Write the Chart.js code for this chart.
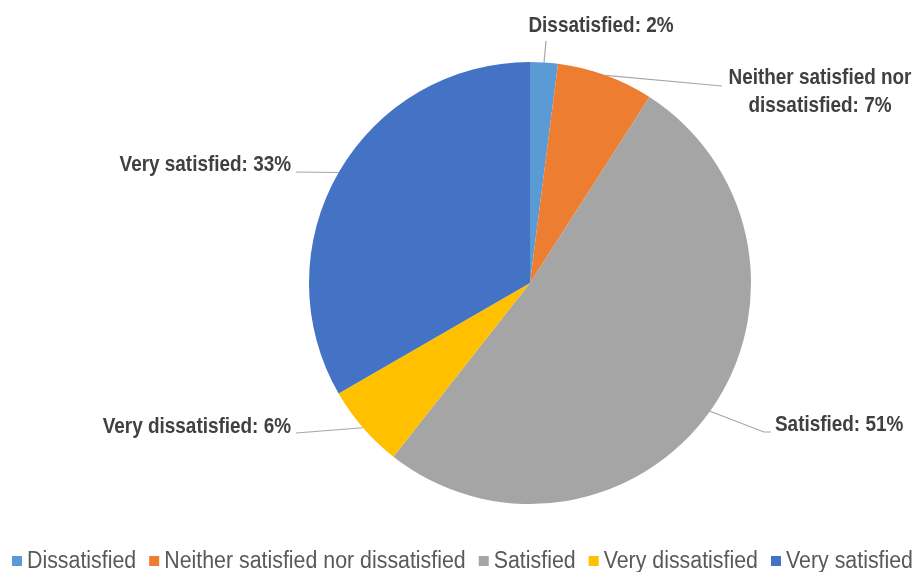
<!DOCTYPE html>
<html>
<head>
<meta charset="utf-8">
<title>Satisfaction</title>
<script src="https://cdn.jsdelivr.net/npm/chart.js@4/dist/chart.umd.min.js"></script>
<style>
    html, body { margin: 0; padding: 0; background: #fff; }
    #wrap { width: 921px; height: 572px; position: relative; }
</style>
</head>
<body>
<div id="wrap"><canvas id="satisfaction-pie"></canvas></div>
<script>
// Data
var categories = ['Dissatisfied', 'Neither satisfied nor dissatisfied', 'Satisfied', 'Very dissatisfied', 'Very satisfied'];
var shares = [2, 7, 51, 6, 33];
var colors = ['#5B9BD5', '#ED7D31', '#A5A5A5', '#FFC000', '#4472C4'];

// Label boxes (text lines, position, alignment) and where the leader stops
var labelLines = [
    ['Dissatisfied: '],
    ['Neither satisfied nor', 'dissatisfied: '],
    ['Satisfied: '],
    ['Very dissatisfied: '],
    ['Very satisfied: ']
];
var labelLayout = [
    { x: 601, y: 26, align: 'center', lineEnd: [546, 41] },
    { x: 820, y: 78, align: 'center', lineEnd: [722, 86] },
    { x: 775, y: 425, align: 'left', lineEnd: [764, 432], elbow: [771, 432] },
    { x: 291, y: 427, align: 'right', lineEnd: [296, 433] },
    { x: 291, y: 165, align: 'right', lineEnd: [296, 172] }
];

/**
 * Draw text squeezed horizontally
 */
function drawNarrowText(ctx, text, x, y, align, sx) {
    var w = ctx.measureText(text).width * sx;
    var left = align === 'center' ? x - w / 2 : (align === 'right' ? x - w : x);
    ctx.save();
    ctx.translate(left, y);
    ctx.scale(sx, 1);
    ctx.textAlign = 'left';
    ctx.fillText(text, 0, 0);
    ctx.restore();
    return w;
}

// Data labels with leader lines
var pieLabels = {
    id: 'pieLabels',
    afterDatasetsDraw: function (chart) {
        var ctx = chart.ctx;
        var arcs = chart.getDatasetMeta(0).data;
        ctx.save();
        ctx.font = 'bold 22px "Liberation Sans", Arial, sans-serif';
        ctx.fillStyle = '#404040';
        ctx.textBaseline = 'middle';
        arcs.forEach(function (arc, i) {
            var layout = labelLayout[i];
            var mid = (arc.startAngle + arc.endAngle) / 2;
            var ax = arc.x + Math.cos(mid) * arc.outerRadius;
            var ay = arc.y + Math.sin(mid) * arc.outerRadius;

            // Leader line
            ctx.strokeStyle = '#A6A6A6';
            ctx.lineWidth = 1.2;
            ctx.beginPath();
            ctx.moveTo(ax, ay);
            ctx.lineTo(layout.lineEnd[0], layout.lineEnd[1]);
            if (layout.elbow)
                ctx.lineTo(layout.elbow[0], layout.elbow[1]);
            ctx.stroke();

            // Text
            var lines = labelLines[i].slice();
            lines[lines.length - 1] += shares[i] + '%';
            lines.forEach(function (line, n) {
                drawNarrowText(ctx, line, layout.x, layout.y + n * 28, layout.align, 0.86);
            });
        });
        ctx.restore();
    }
};

// Legend across the bottom
var bottomLegend = {
    id: 'bottomLegend',
    afterDraw: function (chart) {
        var ctx = chart.ctx;
        var left = 12, right = 913, cy = 561, box = 10, gapText = 5, gapItem = 13;
        ctx.save();
        ctx.font = '23px "Liberation Sans", Arial, sans-serif';
        ctx.textBaseline = 'middle';
        // Natural width, then squeeze to fit the span
        var natural = 0;
        categories.forEach(function (c, i) {
            natural += box + gapText + ctx.measureText(c).width + (i < categories.length - 1 ? gapItem : 0);
        });
        var textTotal = 0;
        categories.forEach(function (c) { textTotal += ctx.measureText(c).width; });
        var fixed = natural - textTotal;
        var sx = (right - left - fixed) / textTotal;
        var x = left;
        categories.forEach(function (c, i) {
            ctx.fillStyle = colors[i];
            ctx.fillRect(x, cy - box / 2, box, box);
            x += box + gapText;
            ctx.fillStyle = '#595959';
            x += drawNarrowText(ctx, c, x, cy + 1, 'left', sx) + gapItem;
        });
        ctx.restore();
    }
};

new Chart(document.getElementById('satisfaction-pie').getContext('2d'), {
    type: 'pie',
    data: {
        labels: categories,
        datasets: [{
            data: shares,
            backgroundColor: colors,
            borderWidth: 0,
            hoverOffset: 0
        }]
    },
    options: {
        responsive: true,
        maintainAspectRatio: false,
        animation: false,
        layout: {
            padding: { top: 62, bottom: 68, left: 309, right: 170 }
        },
        plugins: {
            legend: { display: false },
            tooltip: { enabled: false }
        }
    },
    plugins: [pieLabels, bottomLegend]
});
</script>
</body>
</html>
